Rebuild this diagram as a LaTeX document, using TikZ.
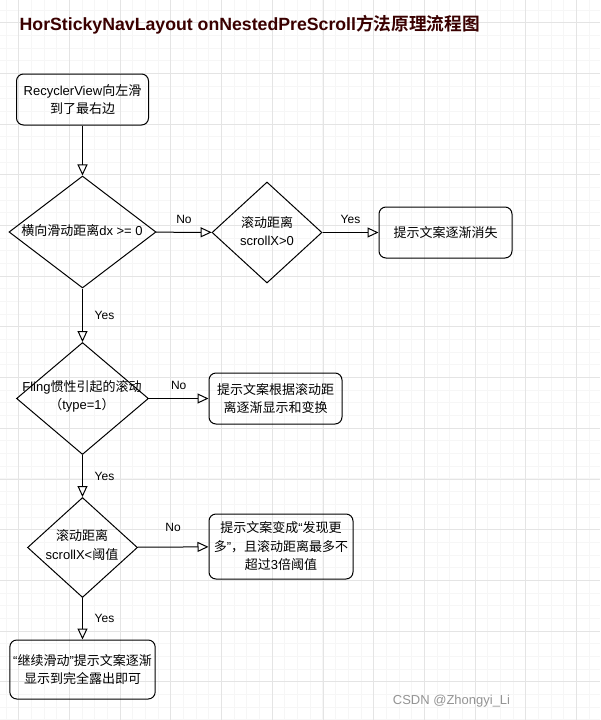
\documentclass[tikz,border=0pt]{standalone}
\usepackage{fontspec}
\setmainfont{Liberation Sans}
\newfontfamily\cjk{Noto Sans CJK SC}[BoldFont={Noto Sans CJK SC Bold}]
\usetikzlibrary{shapes.geometric,arrows.meta}
\definecolor{titlered}{RGB}{58,0,0}
\definecolor{gridminor}{RGB}{246,246,246}
\definecolor{gridmajor}{RGB}{228,228,228}

\begin{document}
\begin{tikzpicture}[x=1pt,y=-1pt,
    box/.style={draw, rounded corners=7pt, line width=1pt, align=center,
        font=\fontsize{13}{18.5}\selectfont},
    decision/.style={draw, diamond, inner sep=0pt, line width=1pt},
    txt/.style={align=center, font=\fontsize{13}{18.5}\selectfont},
    lbl/.style={font=\fontsize{12}{14}\selectfont, inner sep=1pt},
    conn/.style={-{Triangle[open,length=11pt,width=10pt]}, line width=1pt}]
        % background and grid
        \fill[white] (0,0) rectangle (600,720);
        \useasboundingbox (0,0) rectangle (600,720);
        \foreach \i in {0,...,47} {
            \draw[gridminor, line width=0.8pt] ({6.0+12.675*\i},0) -- ({6.0+12.675*\i},720);
        }
        \foreach \j in {0,...,56} {
            \draw[gridminor, line width=0.8pt] (0,{9.9+12.675*\j}) -- (600,{9.9+12.675*\j});
        }
        \foreach \i in {0,...,11} {
            \draw[gridmajor, line width=0.8pt] ({18.7+50.7*\i},0) -- ({18.7+50.7*\i},720);
        }
        \foreach \j in {0,...,13} {
            \draw[gridmajor, line width=0.8pt] (0,{22.6+50.7*\j}) -- (600,{22.6+50.7*\j});
        }

        % title
        \node[anchor=base west, inner sep=0pt, text=titlered, font=\fontsize{17.7}{20}\selectfont\bfseries]
            (title) at (19.5,30.5) {HorStickyNavLayout onNestedPreScroll{\cjk\bfseries 方法原理流程图}};

        % shapes
        \node[box, minimum width=132, minimum height=51] (start) at (82.5,99.5)
            {RecyclerView{\cjk 向左滑}\\{\cjk 到了最右边}};
        \node[decision, minimum width=147, minimum height=112] (q1) at (82.5,232) {};
        \node[txt] (q1t) at (82,231) {{\cjk 横向滑动距离}dx >= 0};
        \node[decision, minimum width=110, minimum height=101] (q2) at (267,232.5) {};
        \node[txt] (q2t) at (267,231) {{\cjk 滚动距离}\\scrollX>0};
        \node[box, minimum width=133, minimum height=51] (fade) at (445.5,232.5)
            {{\cjk 提示文案逐渐消失}};
        \node[decision, minimum width=132, minimum height=112] (q3) at (82.5,398.5) {};
        \node[txt] (q3t) at (82,396.5) {Fling{\cjk 惯性引起的滚动}\\{\cjk （}type=1{\cjk ）}};
        \node[box, minimum width=133, minimum height=51] (show) at (275.5,398.5)
            {{\cjk 提示文案根据滚动距}\\{\cjk 离逐渐显示和变换}};
        \node[decision, minimum width=110, minimum height=100] (q4) at (82.5,547.5) {};
        \node[txt] (q4t) at (82,545) {{\cjk 滚动距离}\\scrollX<{\cjk 阈值}};
        \node[box, minimum width=144, minimum height=65] (more) at (281,546.5)
            {{\cjk 提示文案变成}“{\cjk 发现更}\\{\cjk 多}”{\cjk ，且滚动距离最多不}\\{\cjk 超过}3{\cjk 倍阈值}};
        \node[box, minimum width=143, minimum height=59] (done) at (82.5,669.5)
            {“{\cjk 继续滑动}”{\cjk 提示文案逐渐}\\{\cjk 显示到完全露出即可}};

        % connectors
        \draw[conn] (start) -- (q1);
        \draw[conn] (q1) -- node[lbl, midway, yshift=13] {No} (q2);
        \draw[conn] (q2) -- node[lbl, midway, yshift=13] {Yes} (fade);
        \draw[conn] (q1) -- node[lbl, midway, xshift=22] {Yes} (q3);
        \draw[conn] (q3) -- node[lbl, midway, yshift=13] {No} (show);
        \draw[conn] (q3) -- node[lbl, midway, xshift=22] {Yes} (q4);
        \draw[conn] (q4) -- node[lbl, midway, yshift=20] {No} (more);
        \draw[conn] (q4) -- node[lbl, midway, xshift=22] {Yes} (done);

        % watermark
        \node[text=black!42, font=\fontsize{13}{15}\selectfont] (wm) at (451.5,701) {CSDN @Zhongyi\_Li};
    \end{tikzpicture}
\end{document}
